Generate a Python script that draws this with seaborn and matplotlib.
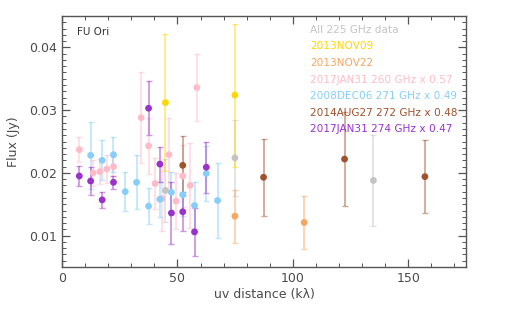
import numpy as np
import pandas as pd
import seaborn as sns
import matplotlib
matplotlib.use("Agg")
import matplotlib.pyplot as plt
from matplotlib.ticker import MultipleLocator

# --- Data (uv distance in klambda, flux in Jy) ---
gray_uv = [44.8, 74.9, 134.9]
gray_flux = [0.0172, 0.0224, 0.0188]
gray_err = [0.0050, 0.0061, 0.0072]

nov09_uv = [44.8, 74.9]
nov09_flux = [0.0312, 0.0324]
nov09_err = [0.0109, 0.0114]

nov22_uv = [74.9, 104.9]
nov22_flux = [0.0131, 0.0121]
nov22_err = [0.0042, 0.0042]

jan260_uv = [7.5, 13.5, 16.4, 19.4, 22.3, 34.3, 37.5, 40.3, 43.4, 46.3, 49.4, 52.3, 55.5, 58.4]
jan260_flux = [0.0237, 0.0200, 0.0202, 0.0206, 0.0210, 0.0288, 0.0243, 0.0183, 0.0159, 0.0229,
               0.0155, 0.0195, 0.0180, 0.0336]
jan260_err = [0.0020, 0.0021, 0.0020, 0.0022, 0.0015, 0.0072, 0.0045, 0.0041, 0.0052, 0.0059,
              0.0045, 0.0050, 0.0068, 0.0053]

dec06_uv = [12.4, 17.4, 22.3, 27.4, 32.3, 37.5, 42.4, 47.4, 52.3, 57.4, 62.5, 67.4]
dec06_flux = [0.0228, 0.0220, 0.0229, 0.0170, 0.0185, 0.0147, 0.0158, 0.0169, 0.0165, 0.0148,
              0.0199, 0.0156]
dec06_err = [0.0053, 0.0032, 0.0028, 0.0031, 0.0043, 0.0029, 0.0028, 0.0032, 0.0033, 0.0038,
             0.0044, 0.0060]

aug27_uv = [52.3, 87.3, 122.4, 157.2]
aug27_flux = [0.0212, 0.0193, 0.0222, 0.0194]
aug27_err = [0.0047, 0.0061, 0.0075, 0.0058]

jan274_uv = [7.5, 12.4, 17.4, 22.3, 37.5, 42.4, 47.4, 52.3, 57.4, 62.5]
jan274_flux = [0.0195, 0.0187, 0.0157, 0.0185, 0.0303, 0.0214, 0.0136, 0.0138, 0.0106, 0.0209]
jan274_err = [0.0016, 0.0022, 0.0013, 0.0010, 0.0043, 0.0028, 0.0049, 0.0031, 0.0038, 0.0041]

labels = ["All 225 GHz data", "2013NOV09", "2013NOV22", "2017JAN31 260 GHz x 0.57",
          "2008DEC06 271 GHz x 0.49", "2014AUG27 272 GHz x 0.48", "2017JAN31 274 GHz x 0.47"]
colors = ["#c4c4c4", "#ffd700", "#f6a660", "#ffbcc8", "#87cefa", "#a0522d", "#9932cc"]

series = [(gray_uv, gray_flux, gray_err), (nov09_uv, nov09_flux, nov09_err),
          (nov22_uv, nov22_flux, nov22_err), (jan260_uv, jan260_flux, jan260_err),
          (dec06_uv, dec06_flux, dec06_err), (aug27_uv, aug27_flux, aug27_err),
          (jan274_uv, jan274_flux, jan274_err)]

rows = []
for lab, (u, f, e) in zip(labels, series):
    for ui, fi, ei in zip(u, f, e):
        rows.append({"uv": ui, "flux": fi, "err": ei, "set": lab})
df = pd.DataFrame(rows)

sns.set_style("ticks")
plt.rcParams["font.family"] = ["DejaVu Sans"]

fig = plt.figure(figsize=(5.18, 3.35), dpi=100)
ax = fig.add_axes([62 / 518, 68 / 335, 404 / 518, 251 / 335])

palette = dict(zip(labels, colors))
for lab in labels:
    sub = df[df["set"] == lab]
    ax.errorbar(sub["uv"], sub["flux"], yerr=sub["err"], fmt="none",
                ecolor=palette[lab], elinewidth=1.3, capsize=2.5, capthick=1.0,
                alpha=0.5, zorder=2)

sns.scatterplot(data=df, x="uv", y="flux", hue="set", palette=palette,
                hue_order=labels, s=24, edgecolor="none", legend=False,
                ax=ax, zorder=3)

ax.set_xlim(0, 175)
ax.set_ylim(0.005, 0.045)
ax.xaxis.set_major_locator(MultipleLocator(50))
ax.xaxis.set_minor_locator(MultipleLocator(10))
ax.yaxis.set_major_locator(MultipleLocator(0.01))
ax.yaxis.set_minor_locator(MultipleLocator(0.001))
ax.set_yticklabels([f"{v:.2f}" for v in ax.get_yticks()])

txt = "#4a4a4a"
ax.tick_params(which="both", direction="in", top=True, right=True,
               color="#555555", labelcolor=txt, labelsize=9)
ax.tick_params(which="major", length=6, width=0.9)
ax.tick_params(which="minor", length=3, width=0.7)
for s in ax.spines.values():
    s.set_color("#555555")
    s.set_linewidth(1.0)

ax.set_xlabel("uv distance (kλ)", color=txt, fontsize=9, labelpad=2)
ax.set_ylabel("Flux (Jy)", color=txt, fontsize=9, labelpad=7)

ax.text(0.038, 0.955, "FU Ori", transform=ax.transAxes, fontsize=7.5,
        color="#333333", va="top", ha="left")
for i, (lab, c) in enumerate(zip(labels, colors)):
    ax.text(0.615, 0.945 - i * 0.066, lab, transform=ax.transAxes, fontsize=7.6,
            color=c, va="center", ha="left")

fig.savefig("out.png", dpi=100)
